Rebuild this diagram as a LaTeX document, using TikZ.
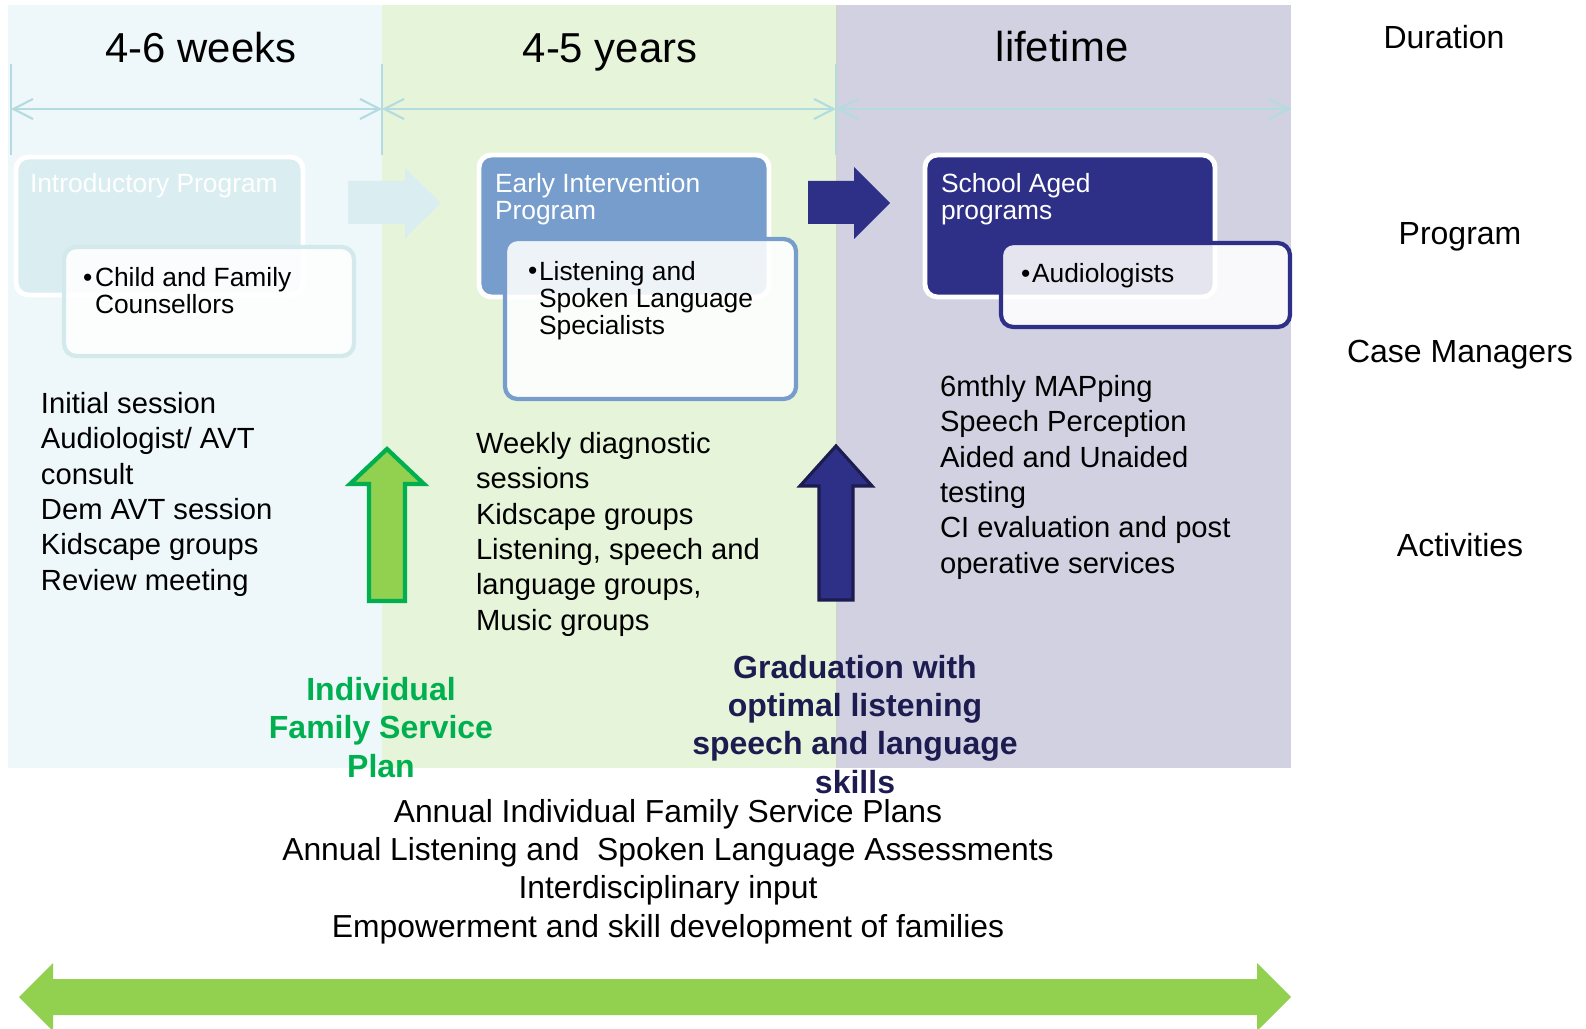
\documentclass[tikz,border=0pt]{standalone}
\usepackage{fontspec}
\setmainfont{Liberation Sans}
\usepackage{xcolor}
\usepackage{tikz}
\usetikzlibrary{arrows.meta}

\definecolor{weeksbg}{HTML}{EEF7F9}
\definecolor{yearsbg}{HTML}{E6F4D9}
\definecolor{lifebg}{HTML}{D2D1E1}
\definecolor{spanline}{HTML}{B4DCE0}
\definecolor{introfill}{HTML}{DAEDF0}
\definecolor{introedge}{HTML}{D3E9EC}
\definecolor{eifill}{HTML}{769DCC}
\definecolor{schoolfill}{HTML}{2E3088}
\definecolor{leafgreen}{HTML}{92D050}
\definecolor{plangreen}{HTML}{00B050}
\definecolor{gradnavy}{HTML}{1C1C50}

\begin{document}
\begin{tikzpicture}[x=0.01cm, y=-0.01cm,
    every node/.style={inner sep=0pt, outer sep=0pt},
    span/.style={color=spanline, line width=0.6pt, {Straight Barb[length=5.6pt,width=5.7pt]}-{Straight Barb[length=5.6pt,width=5.7pt]}},
    spanhead/.style={anchor=base, font=\fontsize{11.9}{14}\selectfont},
    rowlabel/.style={anchor=base, font=\fontsize{9.1}{11}\selectfont},
    actlist/.style={anchor=base west, align=left, font=\fontsize{8.3}{10.04}\selectfont},
    boxhead/.style={anchor=base west, align=left, text=white, font=\fontsize{7.5}{7.7}\selectfont},
    boxlist/.style={anchor=base west, align=left, font=\fontsize{7.5}{7.7}\selectfont},
    progbox/.style={draw=white, line width=1.4pt, rounded corners=3.5pt},
    casebox/.style={fill=white, fill opacity=0.88, line width=1.2pt, rounded corners=3.5pt},
    milestone/.style={anchor=base, align=center, font=\bfseries\fontsize{9.1}{10.9}\selectfont},
    yearly/.style={anchor=base, align=center, font=\fontsize{9.05}{10.9}\selectfont}]
    \useasboundingbox (0,0) rectangle (1586,1028);

    % columns
    \fill[weeksbg] (8,5) rectangle (382,768);
    \fill[yearsbg] (382,5) rectangle (836,768);
    \fill[lifebg] (836,5) rectangle (1291,768);
    \draw[gray!35, line width=0.6pt] (837,5) -- (837,768);

    % duration
    \draw[spanline, line width=0.5pt] (11,64) -- (11,155);
    \draw[spanline, line width=0.5pt] (382,64) -- (382,155);
    \draw[spanline, line width=0.5pt] (836,64) -- (836,155);
    \coordinate (d0) at (11,109);
    \coordinate (d1) at (382,109);
    \coordinate (d2) at (836,109);
    \coordinate (d3) at (1291,109);
    \draw[span] (d0) -- (d1);
    \draw[span] (d1) -- (d2);
    \draw[span] (d2) -- (d3);
    \node[spanhead] (weeks) at (201,63) {4-6 weeks};
    \node[spanhead] (years) at (610,63) {4-5 years};
    \node[spanhead] (life) at (1062,62) {lifetime};

    % programs (multi-line nodes sit on their last line)
    \filldraw[progbox, fill=introfill] (16,157) rectangle (303,295);
    \node[boxhead] (introhead) at (30,193) {Introductory Program};
    \filldraw[casebox, draw=introedge] (64,247) rectangle (354,356);
    \node[boxlist] (introbul) at (83,287) {\textbullet};
    \node[boxlist] (introcm) at (95,314) {Child and Family\\Counsellors};

    \fill[introfill] (348,181) -- (405,181) -- (405,168) -- (441,203)
        -- (405,238) -- (405,224) -- (348,224) -- cycle;

    \filldraw[progbox, fill=eifill] (479,155) rectangle (769,297);
    \node[boxhead] (eihead) at (495,220) {Early Intervention\\Program};
    \filldraw[casebox, draw=eifill] (505,239) rectangle (796,399);
    \node[boxlist] (eibul) at (528,280) {\textbullet};
    \node[boxlist] (eicm) at (539,335) {Listening and\\Spoken Language\\Specialists};

    \fill[schoolfill] (808,181) -- (854,181) -- (854,167) -- (890,203)
        -- (854,239) -- (854,224) -- (808,224) -- cycle;

    \filldraw[progbox, fill=schoolfill] (925,155) rectangle (1215,297);
    \node[boxhead] (sahead) at (941,220) {School Aged\\programs};
    \filldraw[casebox, draw=schoolfill] (1001,243) rectangle (1290,327);
    \node[boxlist] (sabul) at (1021,283) {\textbullet};
    \node[boxlist] (sacm) at (1032,283) {Audiologists};

    % activities
    \node[actlist] (introact) at (41,590) {Initial session\\Audiologist/ AVT\\consult\\Dem AVT session\\Kidscape groups\\Review meeting};
    \node[actlist] (eiact) at (476,630) {Weekly diagnostic\\sessions\\Kidscape groups\\Listening, speech and\\language groups,\\Music groups};
    \node[actlist] (saact) at (940,573) {6mthly MAPping\\Speech Perception\\Aided and Unaided\\testing\\CI evaluation and post\\operative services};

    % milestones
    \filldraw[fill=leafgreen, draw=plangreen, line width=1.2pt] (387,449) -- (424,484) -- (405,484)
        -- (405,601) -- (369,601) -- (369,484) -- (350,484) -- cycle;
    \filldraw[fill=schoolfill, draw=gradnavy, line width=0.9pt] (836,446) -- (872,486) -- (853,486)
        -- (853,600) -- (819,600) -- (819,486) -- (800,486) -- cycle;
    \node[milestone, text=plangreen] (ifsp) at (381,777) {Individual\\Family Service\\Plan};
    \node[milestone, text=gradnavy] (grad) at (855,793) {Graduation with\\optimal listening\\speech and language\\skills};

    % ongoing
    \node[yearly] (ongoing) at (668,937) {Annual Individual Family Service Plans\\Annual Listening and \ Spoken Language Assessments\\Interdisciplinary input\\Empowerment and skill development of families};
    \fill[leafgreen] (19,997) -- (53,963) -- (53,979) -- (1257,979) -- (1257,963) -- (1291,997)
        -- (1257,1031) -- (1257,1015) -- (53,1015) -- (53,1031) -- cycle;

    % row labels
    \node[rowlabel] (durlabel) at (1444,49) {Duration};
    \node[rowlabel] (proglabel) at (1460,245) {Program};
    \node[rowlabel] (cmlabel) at (1460,363) {Case Managers};
    \node[rowlabel] (actlabel) at (1460,556) {Activities};
\end{tikzpicture}
\end{document}
